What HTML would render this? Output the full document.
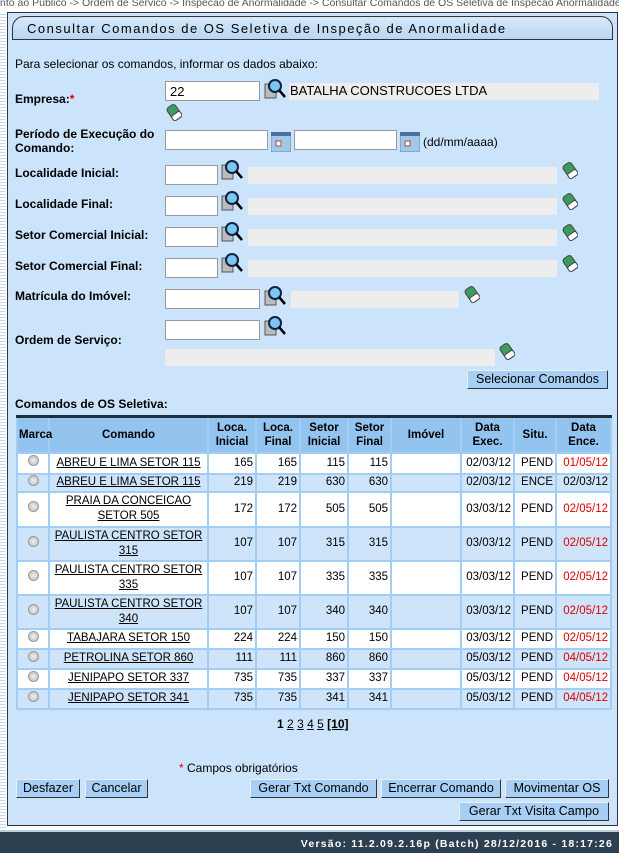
<!DOCTYPE html>
<html><head><meta charset="utf-8"><style>
*{box-sizing:border-box}
body{margin:0;width:619px;height:853px;overflow:hidden;background:#fff;font-family:"Liberation Sans",Arial,sans-serif;font-size:12px;color:#000;position:relative}
.a{position:absolute}
.crumb{left:0;top:-3px;font-size:10.5px;color:#555;white-space:nowrap}
.stripe{left:0;top:12px;width:6px;height:818px;background:repeating-linear-gradient(#fff 0 2px,#c8d8ea 2px 3px)}
.panel{left:7px;top:12px;width:611px;height:814px;background:#cce4fb;border:1px solid #333}
.title{left:12px;top:16px;width:601px;height:24px;background:linear-gradient(#d6e9fb,#b8d6f3);border:1px solid #333;border-radius:12px 12px 0 0;font-size:13px;letter-spacing:1.5px;padding:4px 0 0 14px;color:#000}
.lbl{font-weight:bold;font-size:12px}
.in{background:#fff;border:1px solid #999;height:20px}
.ro{background:#ededed;height:17px}
.mag{width:22px;height:22px}
.er{width:16px;height:18px}
.btn{background:#a7cff5;border:1px solid #333;border-top-color:#eee;border-left-color:#eee;font-size:12.5px;text-align:center;height:19px;line-height:17px}
table{position:absolute;left:16px;top:415px;width:594px;border-collapse:collapse;table-layout:fixed;border-top:3px solid #1f2f3e}
td,th{border:2px solid #a4cdf3;padding:0 2px;font-size:11.5px}
th{background:#93c3ef;height:36px;font-weight:bold;line-height:14px;padding:0 1px}
td{background:#fff;text-align:right;line-height:15px}
tr.b td{background:#cde4fb}
td.c{text-align:center}
.r{color:#d00}
.rad{display:inline-block;width:11px;height:11px;border-radius:50%;border:1px solid #999;background:radial-gradient(#eee,#bbb)}
.foot{left:0;top:830px;width:619px;height:23px;background:#2c4052;color:#fff;font-weight:bold;font-size:10.5px;letter-spacing:1.2px;text-align:right;padding:6px 6px 0 0;border-top:2px solid #b8cfe4}
</style></head><body>
<div class="a crumb">nto ao Público -&gt; Ordem de Servico -&gt; Inspecao de Anormalidade -&gt; Consultar Comandos de OS Seletiva de Inspecao Anormalidade</div>
<div class="a stripe"></div>
<div class="a panel"></div>
<div class="a title">Consultar Comandos de OS Seletiva de Inspeção de Anormalidade</div>

<div class="a" style="left:15px;top:57px">Para selecionar os comandos, informar os dados abaixo:</div>

<svg width="0" height="0" style="position:absolute"><defs>
<g id="m"><rect x="1" y="6" width="11" height="14" fill="#bbb" stroke="#555"/><circle cx="11" cy="8" r="6" fill="#7cc6ef" stroke="#124" stroke-width="2"/><line x1="15" y1="12" x2="21" y2="19" stroke="#000" stroke-width="2.5"/></g>
<g id="e"><g transform="rotate(-35 8 9)"><rect x="3" y="2" width="10" height="15" rx="3" fill="#3c9b5e" stroke="#444"/><rect x="3" y="11" width="10" height="6" rx="2" fill="#fff" stroke="#444"/></g></g>
<g id="c"><rect x="0" y="0" width="20" height="20" fill="#9fc8ea" stroke="#789"/><rect x="0" y="0" width="20" height="4" fill="#4a6fa0"/><rect x="5" y="9" width="5" height="5" fill="#fff" stroke="#a44"/></g>
</defs></svg>

<div class="a lbl" style="left:15px;top:92px">Empresa:<span class="r">*</span></div>
<div class="a in" style="left:165px;top:81px;width:95px;padding:2px 4px;font-size:13px">22</div>
<svg class="a mag" style="left:264px;top:78px"><use href="#m"/></svg>
<div class="a ro" style="left:289px;top:83px;width:310px;font-size:13px;padding-left:1px">BATALHA CONSTRUCOES LTDA</div>
<svg class="a er" style="left:166px;top:103px"><use href="#e"/></svg>

<div class="a lbl" style="left:15px;top:127px;line-height:14px">Período de Execução do<br>Comando:</div>
<div class="a in" style="left:165px;top:130px;width:103px"></div>
<svg class="a" style="left:271px;top:132px" width="20" height="20"><use href="#c"/></svg>
<div class="a in" style="left:294px;top:130px;width:103px"></div>
<svg class="a" style="left:400px;top:132px" width="20" height="20"><use href="#c"/></svg>
<div class="a" style="left:423px;top:135px">(dd/mm/aaaa)</div>

<div class="a lbl" style="left:15px;top:166px">Localidade Inicial:</div>
<div class="a in" style="left:165px;top:165px;width:53px"></div>
<svg class="a mag" style="left:221px;top:159px"><use href="#m"/></svg>
<div class="a ro" style="left:248px;top:167px;width:309px"></div>
<svg class="a er" style="left:562px;top:161px"><use href="#e"/></svg>

<div class="a lbl" style="left:15px;top:197px">Localidade Final:</div>
<div class="a in" style="left:165px;top:196px;width:53px"></div>
<svg class="a mag" style="left:221px;top:190px"><use href="#m"/></svg>
<div class="a ro" style="left:248px;top:198px;width:309px"></div>
<svg class="a er" style="left:562px;top:192px"><use href="#e"/></svg>

<div class="a lbl" style="left:15px;top:228px">Setor Comercial Inicial:</div>
<div class="a in" style="left:165px;top:227px;width:53px"></div>
<svg class="a mag" style="left:221px;top:221px"><use href="#m"/></svg>
<div class="a ro" style="left:248px;top:229px;width:309px"></div>
<svg class="a er" style="left:562px;top:223px"><use href="#e"/></svg>

<div class="a lbl" style="left:15px;top:259px">Setor Comercial Final:</div>
<div class="a in" style="left:165px;top:258px;width:53px"></div>
<svg class="a mag" style="left:221px;top:252px"><use href="#m"/></svg>
<div class="a ro" style="left:248px;top:260px;width:309px"></div>
<svg class="a er" style="left:562px;top:254px"><use href="#e"/></svg>

<div class="a lbl" style="left:15px;top:289px">Matrícula do Imóvel:</div>
<div class="a in" style="left:165px;top:289px;width:95px"></div>
<svg class="a mag" style="left:264px;top:285px"><use href="#m"/></svg>
<div class="a ro" style="left:291px;top:291px;width:168px"></div>
<svg class="a er" style="left:464px;top:285px"><use href="#e"/></svg>

<div class="a lbl" style="left:15px;top:333px">Ordem de Serviço:</div>
<div class="a in" style="left:165px;top:320px;width:95px"></div>
<svg class="a mag" style="left:264px;top:315px"><use href="#m"/></svg>
<div class="a ro" style="left:165px;top:349px;width:330px"></div>
<svg class="a er" style="left:499px;top:342px"><use href="#e"/></svg>

<div class="a btn" style="left:467px;top:370px;width:141px">Selecionar Comandos</div>

<div class="a lbl" style="left:15px;top:397px">Comandos de OS Seletiva:</div>

<table>
<colgroup><col style="width:32px"><col style="width:159px"><col style="width:48px"><col style="width:44px"><col style="width:48px"><col style="width:43px"><col style="width:70px"><col style="width:53px"><col style="width:42px"><col style="width:55px"></colgroup>
<tr><th>Marca</th><th>Comando</th><th>Loca.<br>Inicial</th><th>Loca.<br>Final</th><th>Setor<br>Inicial</th><th>Setor<br>Final</th><th>Imóvel</th><th>Data<br>Exec.</th><th>Situ.</th><th>Data<br>Ence.</th></tr>
<tr style="height:21px"><td class="c"><span class="rad"></span></td><td class="c"><u>ABREU E LIMA SETOR 115</u></td><td>165</td><td>165</td><td>115</td><td>115</td><td></td><td>02/03/12</td><td>PEND</td><td class="r">01/05/12</td></tr>
<tr class="b" style="height:18px"><td class="c"><span class="rad"></span></td><td class="c"><u>ABREU E LIMA SETOR 115</u></td><td>219</td><td>219</td><td>630</td><td>630</td><td></td><td>02/03/12</td><td>ENCE</td><td>02/03/12</td></tr>
<tr style="height:35px"><td class="c"><span class="rad"></span></td><td class="c"><u>PRAIA DA CONCEICAO SETOR 505</u></td><td>172</td><td>172</td><td>505</td><td>505</td><td></td><td>03/03/12</td><td>PEND</td><td class="r">02/05/12</td></tr>
<tr class="b" style="height:34px"><td class="c"><span class="rad"></span></td><td class="c"><u>PAULISTA CENTRO SETOR 315</u></td><td>107</td><td>107</td><td>315</td><td>315</td><td></td><td>03/03/12</td><td>PEND</td><td class="r">02/05/12</td></tr>
<tr style="height:34px"><td class="c"><span class="rad"></span></td><td class="c"><u>PAULISTA CENTRO SETOR 335</u></td><td>107</td><td>107</td><td>335</td><td>335</td><td></td><td>03/03/12</td><td>PEND</td><td class="r">02/05/12</td></tr>
<tr class="b" style="height:34px"><td class="c"><span class="rad"></span></td><td class="c"><u>PAULISTA CENTRO SETOR 340</u></td><td>107</td><td>107</td><td>340</td><td>340</td><td></td><td>03/03/12</td><td>PEND</td><td class="r">02/05/12</td></tr>
<tr style="height:20px"><td class="c"><span class="rad"></span></td><td class="c"><u>TABAJARA SETOR 150</u></td><td>224</td><td>224</td><td>150</td><td>150</td><td></td><td>03/03/12</td><td>PEND</td><td class="r">02/05/12</td></tr>
<tr class="b" style="height:20px"><td class="c"><span class="rad"></span></td><td class="c"><u>PETROLINA SETOR 860</u></td><td>111</td><td>111</td><td>860</td><td>860</td><td></td><td>05/03/12</td><td>PEND</td><td class="r">04/05/12</td></tr>
<tr style="height:20px"><td class="c"><span class="rad"></span></td><td class="c"><u>JENIPAPO SETOR 337</u></td><td>735</td><td>735</td><td>337</td><td>337</td><td></td><td>05/03/12</td><td>PEND</td><td class="r">04/05/12</td></tr>
<tr class="b" style="height:20px"><td class="c"><span class="rad"></span></td><td class="c"><u>JENIPAPO SETOR 341</u></td><td>735</td><td>735</td><td>341</td><td>341</td><td></td><td>05/03/12</td><td>PEND</td><td class="r">04/05/12</td></tr>
</table>

<div class="a" style="left:277px;top:717px;font-size:12px"><b>1</b> <u>2</u> <u>3</u> <u>4</u> <u>5</u> <u><b>[10]</b></u></div>
<div class="a" style="left:179px;top:761px"><span class="r">*</span> Campos obrigatórios</div>

<div class="a btn" style="left:16px;top:779px;width:64px">Desfazer</div>
<div class="a btn" style="left:85px;top:779px;width:63px">Cancelar</div>
<div class="a btn" style="left:250px;top:779px;width:127px">Gerar Txt Comando</div>
<div class="a btn" style="left:381px;top:779px;width:120px">Encerrar Comando</div>
<div class="a btn" style="left:505px;top:779px;width:104px">Movimentar OS</div>
<div class="a btn" style="left:459px;top:802px;width:150px">Gerar Txt Visita Campo</div>

<div class="a foot">Versão: 11.2.09.2.16p (Batch) 28/12/2016 - 18:17:26</div>
</body></html>
